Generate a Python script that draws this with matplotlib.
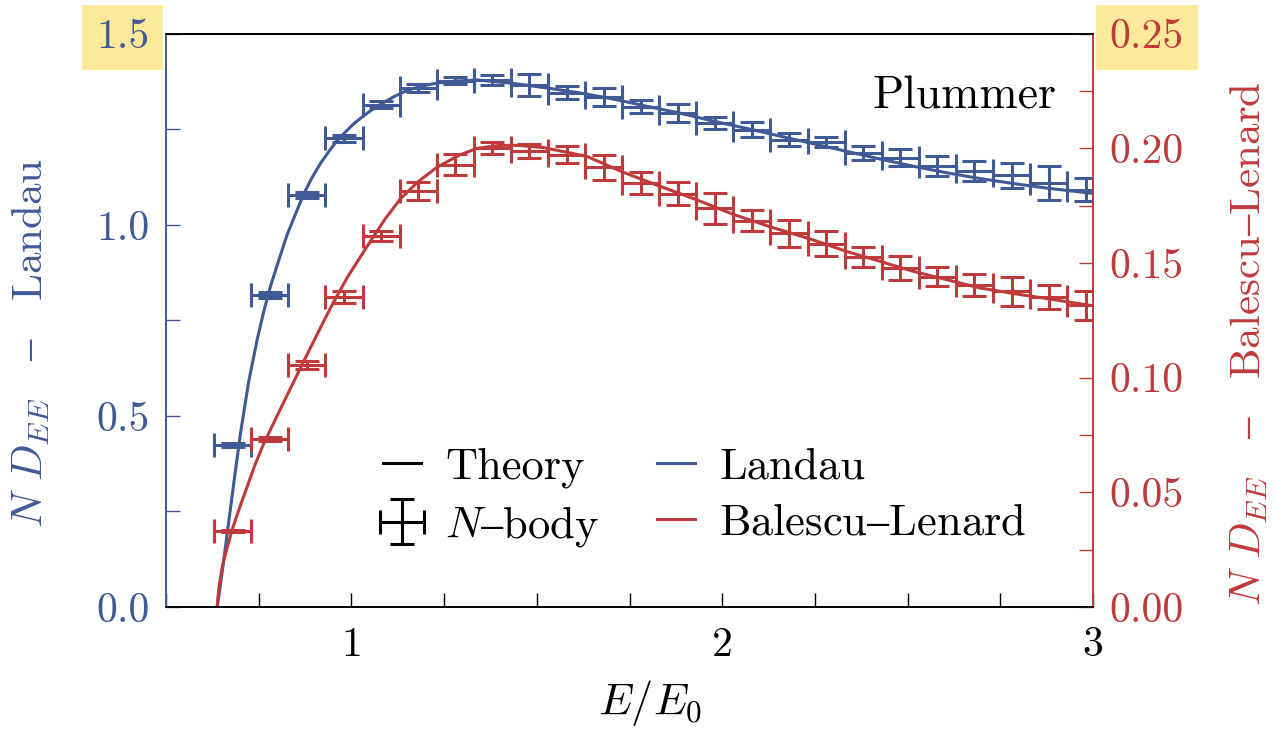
import matplotlib
matplotlib.use("Agg")
import matplotlib.pyplot as plt
from matplotlib.lines import Line2D
from matplotlib.ticker import MultipleLocator
import numpy as np

plt.rcParams['font.family'] = ['cmr10', 'DejaVu Serif']
plt.rcParams['mathtext.fontset'] = 'cm'
plt.rcParams['axes.formatter.use_mathtext'] = True
plt.rcParams['axes.unicode_minus'] = False

blauw = '#3f5a95'
rood = '#bf3a3b'
geel = '#fde99a'

# N-body metingen (midden van de bins)
x_nbody = [0.68, 0.78, 0.88, 0.98, 1.08, 1.18, 1.28, 1.38, 1.48, 1.58, 1.68, 1.78,
           1.88, 1.98, 2.08, 2.18, 2.28, 2.38, 2.48, 2.58, 2.68, 2.78, 2.88, 2.98]
x_halfbin = 0.05

landau_nb = [0.424, 0.816, 1.078, 1.226, 1.314, 1.358, 1.377, 1.378, 1.366, 1.346, 1.335, 1.309,
             1.292, 1.266, 1.249, 1.223, 1.217, 1.187, 1.176, 1.153, 1.141, 1.129, 1.110, 1.092]
landau_err = [0.005, 0.008, 0.009, 0.009, 0.009, 0.010, 0.009, 0.013, 0.029, 0.018, 0.023, 0.017,
              0.024, 0.016, 0.019, 0.016, 0.014, 0.018, 0.022, 0.026, 0.027, 0.033, 0.045, 0.031]

bl_nb = [0.0332, 0.0733, 0.1056, 0.1351, 0.1616, 0.1815, 0.1928, 0.2003, 0.1990, 0.1973, 0.1918, 0.1849,
         0.1803, 0.1738, 0.1685, 0.1629, 0.1585, 0.1526, 0.1479, 0.1441, 0.1405, 0.1376, 0.1352, 0.1316]
bl_err = [0.0005, 0.0008, 0.0018, 0.0025, 0.0022, 0.0040, 0.0046, 0.0026, 0.0031, 0.0038, 0.0055, 0.0047,
          0.0049, 0.0067, 0.0047, 0.0058, 0.0053, 0.0044, 0.0052, 0.0041, 0.0048, 0.0065, 0.0053, 0.0064]

landau_x = [0.638, 0.645, 0.656, 0.669, 0.687, 0.701, 0.723, 0.746, 0.764, 0.782, 0.805, 0.827,
            0.85, 0.871, 0.893, 0.916, 0.94, 0.961, 0.985, 1.006, 1.03, 1.051, 1.08, 1.114,
            1.14, 1.168, 1.2, 1.231, 1.28, 1.339, 1.437, 1.527, 1.617, 1.707, 1.797, 1.887,
            1.977, 2.067, 2.156, 2.246, 2.336, 2.426, 2.516, 2.606, 2.695, 2.785, 2.875, 3.0]
landau_y = [0.0, 0.045, 0.125, 0.222, 0.355, 0.455, 0.590, 0.700, 0.775, 0.840, 0.910, 0.975,
            1.030, 1.080, 1.122, 1.160, 1.193, 1.220, 1.244, 1.264, 1.283, 1.298, 1.316, 1.335,
            1.347, 1.357, 1.365, 1.371, 1.376, 1.379, 1.370, 1.358, 1.345, 1.329, 1.310, 1.292,
            1.271, 1.252, 1.232, 1.212, 1.192, 1.172, 1.153, 1.136, 1.121, 1.108, 1.096, 1.082]

bl_x = [0.638, 0.640, 0.644, 0.650, 0.656, 0.667, 0.678, 0.70, 0.719, 0.74, 0.764, 0.818,
        0.871, 0.925, 0.952, 0.99, 1.042, 1.09, 1.132, 1.18, 1.231, 1.29, 1.339, 1.40,
        1.45, 1.52, 1.635, 1.734, 1.833, 1.932, 2.03, 2.129, 2.246, 2.336, 2.426, 2.516,
        2.606, 2.695, 2.785, 2.875, 3.0]
bl_y = [0.0, 0.004, 0.010, 0.016, 0.0205, 0.027, 0.0336, 0.044, 0.0525, 0.062, 0.0714, 0.0895,
        0.1070, 0.1245, 0.1330, 0.1440, 0.1572, 0.1690, 0.1780, 0.1855, 0.1918, 0.1970, 0.2000, 0.2013,
        0.2013, 0.2003, 0.1965, 0.1895, 0.1834, 0.1775, 0.1712, 0.1658, 0.1600, 0.1550, 0.1507, 0.1463,
        0.1427, 0.1391, 0.1367, 0.1345, 0.1313]

fig = plt.figure(figsize=(12.77, 7.33), dpi=100)
ax = fig.add_axes([0.130, 0.172, 0.726, 0.782])
ax2 = ax.twinx()

lw = 2.2
cap = 8.5

ax.errorbar(x_nbody, landau_nb, xerr=x_halfbin, yerr=landau_err, fmt='none', ecolor=blauw,
            elinewidth=lw, capsize=cap, capthick=lw)
ax.plot(landau_x, landau_y, color=blauw, lw=lw)

ax2.errorbar(x_nbody, bl_nb, xerr=x_halfbin, yerr=bl_err, fmt='none', ecolor=rood,
             elinewidth=lw, capsize=cap, capthick=lw)
ax2.plot(bl_x, bl_y, color=rood, lw=lw)

ax.set_xlim(0.5, 3)
ax.set_ylim(0, 1.5)
ax2.set_ylim(0, 0.25)

ax.set_xticks([1, 2, 3], labels=['1', '2', '3'])
ax.xaxis.set_minor_locator(MultipleLocator(0.25))
ax.set_yticks([0, 0.5, 1.0, 1.5], labels=['0.0', '0.5', '1.0', '1.5'])
ax.yaxis.set_minor_locator(MultipleLocator(0.25))
ax2.set_yticks([0, 0.05, 0.10, 0.15, 0.20, 0.25], labels=['0.00', '0.05', '0.10', '0.15', '0.20', '0.25'])
ax2.yaxis.set_minor_locator(MultipleLocator(0.025))

fs = 30
ax.tick_params(axis='x', which='both', direction='in', length=10, width=1, colors='black',
               labelsize=fs, pad=14, top=False)
ax.tick_params(axis='y', which='both', direction='in', length=10, width=1, color=blauw,
               labelcolor=blauw, labelsize=fs, pad=12, right=False)
ax2.tick_params(axis='y', which='both', direction='in', length=10, width=1, color=rood,
                labelcolor=rood, labelsize=fs, pad=12)

for a in (ax, ax2):
    a.spines['top'].set_color('black')
    a.spines['bottom'].set_color('black')
    a.spines['left'].set_color(blauw)
    a.spines['right'].set_color(rood)
    for s in a.spines.values():
        s.set_linewidth(1.2)

ax.get_yticklabels()[-1].set_bbox(dict(boxstyle='square,pad=0.33', facecolor=geel, edgecolor='none'))
ax2.get_yticklabels()[-1].set_bbox(dict(boxstyle='square,pad=0.33', facecolor=geel, edgecolor='none'))

ax.set_xlabel(r'$E/E_0$', fontsize=32, va='center')
ax.xaxis.set_label_coords(0.522, -0.168)
ax.set_ylabel(r'$N\ D_{EE}\ \ \ \mathrm{–}\ \ \ \mathrm{Landau}$', fontsize=31, color=blauw, va='center')
ax.yaxis.set_label_coords(-0.145, 0.46)
ax2.set_ylabel(r'$N\ D_{EE}\ \ \ \mathrm{–}\ \ \ \mathrm{Balescu–Lenard}$', fontsize=31, color=rood, va='center')
ax2.yaxis.set_label_coords(1.169, 0.46)

ax.text(0.961, 0.89, 'Plummer', transform=ax.transAxes, ha='right', va='center', fontsize=33)

h_theory = Line2D([], [], color='black', lw=lw)
h_nbody = ax.errorbar([np.nan], [np.nan], xerr=[0.1], yerr=[0.1], fmt='none', ecolor='black',
                      elinewidth=lw, capsize=cap, capthick=lw)
h_landau = Line2D([], [], color=blauw, lw=lw)
h_bl = Line2D([], [], color=rood, lw=lw)
ax2.legend([h_theory, h_nbody, h_landau, h_bl],
           ['Theory', r'$N\mathrm{–body}$', 'Landau', r'$\mathrm{Balescu–Lenard}$'],
           ncol=2, loc='center', bbox_to_anchor=(0.581, 0.19), frameon=False, fontsize=32,
           handlelength=0.85, handletextpad=0.55, columnspacing=1.3, labelspacing=0.35)

fig.savefig('out.png', dpi=100)
